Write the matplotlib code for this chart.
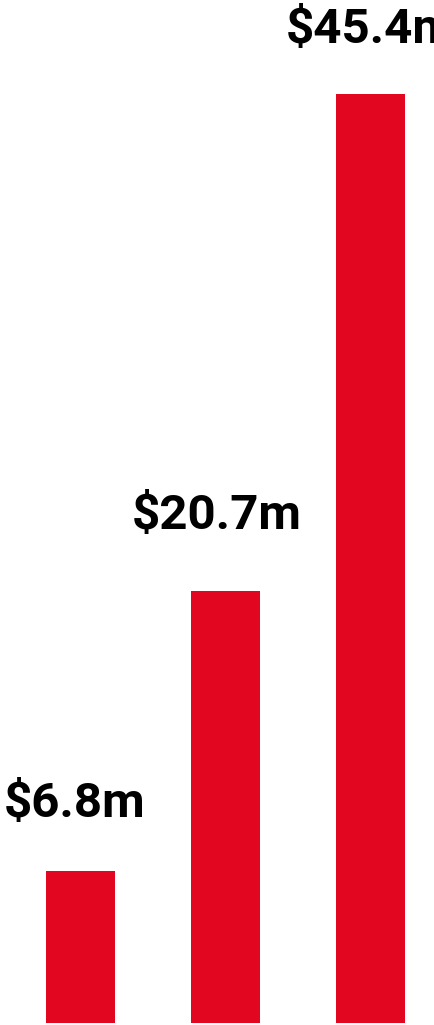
import matplotlib
matplotlib.use("Agg")
import matplotlib.pyplot as plt

# revenue per period, in $ millions
periods = ["p1", "p2", "p3"]
values = [6.8, 20.7, 45.4]
labels = ["$6.8m", "$20.7m", "$45.4m"]

BAR_COLOR = "#e30621"
DPI = 100
px = 72 / DPI  # points per pixel

fig = plt.figure(figsize=(4.34, 10.25), dpi=DPI)
ax = fig.add_axes([0, 0, 1, 1])

# bars start a little below the zero line
base = -0.75
xs = list(range(len(values)))
ax.bar(xs, [v - base for v in values], width=0.476, bottom=base,
       color=BAR_COLOR, linewidth=0)
ax.set_xlim(-0.555, 2.438)
ax.set_ylim(-0.845, 50.07)

# label nudges (pixels)
label_dx = [-6, -9, 0]
label_dy = [54, 62, 51]
for x, v, lab, dx, dy in zip(xs, values, labels, label_dx, label_dy):
    ax.annotate(lab, (x, v), xytext=(dx * px, dy * px), textcoords="offset points",
                ha="center", va="baseline", fontsize=35.5, fontweight="bold",
                family=["Roboto", "DejaVu Sans"], color="black",
                annotation_clip=False)

ax.axis("off")
fig.savefig("out.png", dpi=DPI, facecolor="white")
